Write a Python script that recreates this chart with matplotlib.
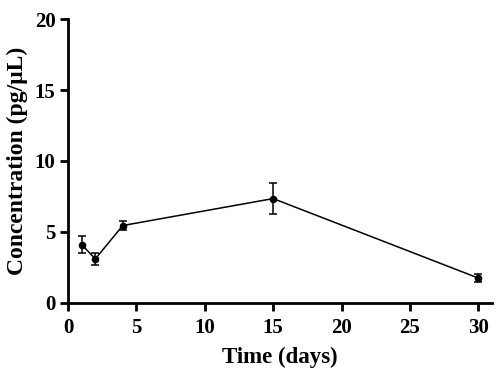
import numpy as np
import matplotlib.pyplot as plt

# time course values
days = [1, 2, 4, 15, 30]
conc = [4.1, 3.1, 5.45, 7.35, 1.75]
sem = [0.6, 0.4, 0.3, 1.1, 0.3]

plt.rcParams['font.family'] = ['Liberation Serif', 'DejaVu Serif']
plt.rcParams['font.weight'] = 'bold'

fig = plt.figure(figsize=(5.0, 3.81), dpi=100)
ax = fig.add_axes([0.136, 0.205, 0.848, 0.745])

ax.errorbar(days, conc, yerr=sem, color='black', marker='o', markersize=4.5,
            linewidth=1.1, elinewidth=1.1, capsize=3, capthick=1.1)

ax.set_xlim(0, 31)
ax.set_ylim(0, 20)
ax.set_xticks([0, 5, 10, 15, 20, 25, 30])
ax.set_yticks([0, 5, 10, 15, 20])

for side in ['top', 'right']:
    ax.spines[side].set_visible(False)
for side in ['left', 'bottom']:
    ax.spines[side].set_linewidth(2)

ax.tick_params(direction='out', length=6, width=2, labelsize=15)
ax.tick_params(axis='x', pad=5)
ax.tick_params(axis='y', pad=3)
for lab in ax.get_xticklabels() + ax.get_yticklabels():
    lab.set_fontweight('bold')

ax.set_xlabel('Time (days)', fontsize=16.5, fontweight='bold', labelpad=6)
ax.set_ylabel('Concentration (pg/\u03bcL)', fontsize=17, fontweight='bold', labelpad=5)

fig.savefig('out.png', dpi=100)
